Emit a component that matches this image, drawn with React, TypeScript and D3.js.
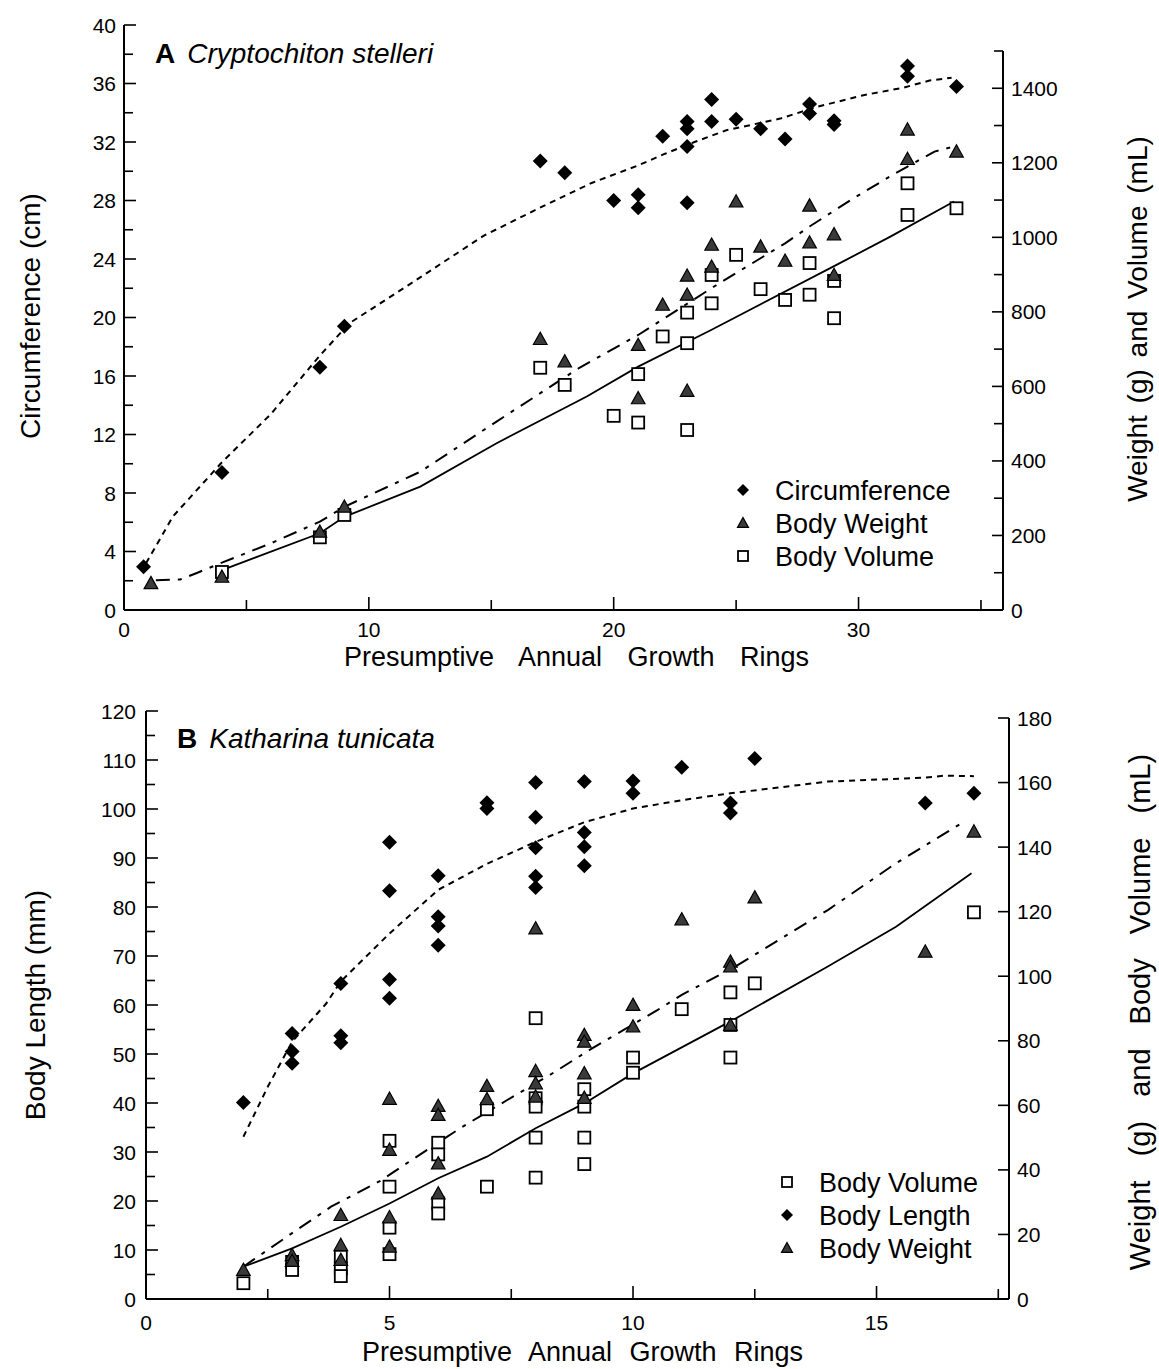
import React from 'react';
import * as d3 from 'd3';

// ---- panel A: Cryptochiton stelleri ----
const circRingsA = [0.8, 4, 8, 9, 17, 18, 20, 21, 21, 22, 23, 23, 23, 23, 24, 24, 25, 26, 27, 28, 28, 29, 29, 32, 32, 34];
const circA = [2.95, 9.4, 16.6, 19.4, 30.7, 29.9, 28.0, 28.4, 27.5, 32.4, 33.4, 32.9, 31.7, 27.85, 34.9, 33.4, 33.55, 32.9, 32.2, 34.6, 33.95, 33.45, 33.2, 37.2, 36.5, 35.8];

const weightRingsA = [1.1, 4, 8, 9, 17, 18, 21, 21, 22, 23, 23, 23, 24, 24, 25, 26, 27, 28, 28, 29, 29, 32, 32, 34];
const weightA = [72, 89, 210, 277, 727, 667, 711, 568, 819, 897, 846, 588, 980, 921, 1096, 975, 937, 1085, 986, 1008, 899, 1289, 1210, 1230];

const volRingsA = [4, 8, 9, 17, 18, 20, 21, 21, 22, 23, 23, 23, 24, 24, 25, 26, 27, 28, 28, 29, 29, 32, 32, 34];
const volA = [102, 195, 255, 650, 604, 521, 633, 503, 734, 798, 716, 483, 899, 823, 953, 861, 832, 931, 846, 883, 783, 1145, 1060, 1078];

// fitted curves
const circFitA = [[0.9, 3.2], [2, 6.4], [4, 10.1], [6, 13.4], [8, 17.4], [9.2, 19.6], [11.6, 22.2], [14.7, 25.6], [17.1, 27.6], [19.1, 29.2], [21, 30.4], [22.1, 31.2], [23.3, 32.0], [24.6, 32.8], [26.8, 33.6], [28.3, 34.4], [30.2, 35.2], [31.8, 35.7], [32.9, 36.2], [33.8, 36.4]];
const weightFitA = [[1.3, 80], [2.3, 82], [3, 100], [4, 127], [6, 179], [8, 237], [9, 277], [12.1, 371], [15.2, 505], [18.6, 650], [21, 738], [24.1, 868], [27, 984], [28, 1029], [29.7, 1101], [31.4, 1168], [33.1, 1230], [33.9, 1244]];
const volFitA = [[4, 107], [8, 206], [9, 250], [12.1, 331], [15.2, 447], [18.9, 573], [21, 653], [24, 752], [29.1, 926], [31.3, 1002], [33.9, 1096]];

// ---- panel B: Katharina tunicata ----
const lenRingsB = [2, 3, 3, 3, 4, 4, 4, 5, 5, 5, 5, 6, 6, 6, 6, 7, 7, 8, 8, 8, 8, 8, 9, 9, 9, 9, 10, 10, 11, 12, 12, 12.5, 16, 17];
const lenB = [40.1, 54.2, 50.5, 48.1, 64.4, 53.7, 52.3, 93.2, 83.3, 65.2, 61.4, 86.4, 78.0, 76.1, 72.2, 101.3, 100.1, 105.4, 98.3, 92.1, 86.3, 84.0, 105.6, 95.2, 92.3, 88.4, 105.7, 103.2, 108.5, 101.2, 99.2, 110.3, 101.2, 103.2];

const weightRingsB = [2, 3, 3, 4, 4, 4, 5, 5, 5, 5, 6, 6, 6, 6, 7, 7, 8, 8, 8, 8, 9, 9, 9, 9, 10, 10, 11, 12, 12, 12, 12.5, 16, 17];
const weightB = [9.0, 13.6, 11.8, 26.0, 16.7, 12.1, 62.0, 46.2, 25.3, 16.2, 59.8, 57.0, 42.0, 32.7, 66.0, 61.9, 114.8, 70.6, 66.8, 62.7, 81.8, 79.7, 69.9, 62.3, 91.1, 84.4, 117.6, 104.5, 103.0, 84.9, 124.4, 107.6, 144.8];

const volRingsB = [2, 3, 3, 4, 4, 4, 5, 5, 5, 5, 6, 6, 6, 6, 7, 7, 8, 8, 8, 8, 8, 9, 9, 9, 9, 10, 10, 11, 12, 12, 12, 12.5, 17];
const volB = [4.9, 11.5, 9.0, 13.1, 9.5, 7.1, 49.0, 34.8, 22.1, 13.9, 48.4, 44.8, 29.6, 26.5, 58.8, 34.8, 87.0, 62.2, 59.6, 50.0, 37.6, 65.0, 59.6, 50.0, 41.8, 74.8, 70.1, 89.8, 95.0, 84.9, 74.8, 97.8, 119.8];

const lenFitB = [[2, 33.1], [2.5, 43.3], [3, 52.5], [3.7, 60.3], [4, 64.8], [5, 74.6], [6, 83.5], [7, 88.8], [8, 93.3], [9, 97.3], [10, 100.1], [11, 101.8], [12, 103.2], [13, 104.4], [14, 105.6], [16, 106.4], [16.4, 106.8], [17, 106.7]];
const weightFitB = [[2, 10], [2.2, 12.1], [3, 20.4], [3.8, 28.6], [4.8, 36.5], [5.5, 43.5], [6.45, 52.9], [7.4, 61.5], [8.4, 70.4], [9.1, 77.1], [9.8, 83.3], [10.5, 89.5], [11, 94.2], [12.1, 103], [14, 120.5], [15.4, 135], [16.8, 147.9]];
const volFitB = [[2, 10], [3, 15.7], [4, 22.4], [5, 29.6], [6, 37.4], [7, 44.1], [8, 52.9], [9, 60.6], [10, 69.9], [12, 86], [14, 103], [15.4, 115.3], [16.95, 131.9]];

const FONT = '"Liberation Sans", Arial, Helvetica, sans-serif';

const diamondPath = (r) => `M0,${-r}L${r},0L0,${r}L${-r},0Z`;
const trianglePath = (s) => `M0,${-s}L${s},${s * 0.8}L${-s},${s * 0.8}Z`;

const Diamond = ({ x, y, r = 7.5 }) => (
  <path d={diamondPath(r)} transform={`translate(${x},${y})`} fill="#000" />
);
const Triangle = ({ x, y, s = 6.8 }) => (
  <path d={trianglePath(s)} transform={`translate(${x},${y})`} fill="#3a3a3a" stroke="#000" strokeWidth={1.2} />
);
const Square = ({ x, y, s = 12 }) => (
  <rect x={x - s / 2} y={y - s / 2} width={s} height={s} fill="#fff" stroke="#000" strokeWidth={1.8} />
);

const Panel = ({ x, yL, yR, cfg }) => {
  const [x0, x1] = x.range();
  const [yb, yt] = yL.range();
  const yrt = yR.range()[1];
  const line = (ys) => d3.line().x(d => x(d[0])).y(d => ys(d[1]));
  return (
    <g fontFamily={FONT} fill="#000">
      {/* axes */}
      <line x1={x0} x2={x0} y1={yt} y2={yb} stroke="#000" strokeWidth={2} />
      <line x1={x0} x2={x1} y1={yb} y2={yb} stroke="#000" strokeWidth={2} />
      <line x1={x1} x2={x1} y1={yrt} y2={yb} stroke="#000" strokeWidth={2} />
      {cfg.leftMinor.map(t => (
        <line key={'lm' + t} x1={x0} x2={x0 + 9} y1={yL(t)} y2={yL(t)} stroke="#000" strokeWidth={1.6} />
      ))}
      {cfg.leftMajor.map(t => (
        <g key={'l' + t}>
          <line x1={x0} x2={x0 + 12} y1={yL(t)} y2={yL(t)} stroke="#000" strokeWidth={1.6} />
          <text x={x0 - cfg.leftGap} y={yL(t)} dy="0.36em" textAnchor="end" fontSize={21}>{t}</text>
        </g>
      ))}
      {cfg.rightMinor.map(t => (
        <line key={'rm' + t} x1={x1} x2={x1 - 9} y1={yR(t)} y2={yR(t)} stroke="#000" strokeWidth={1.6} />
      ))}
      {cfg.rightMajor.map(t => (
        <g key={'r' + t}>
          <line x1={x1} x2={x1 - 11} y1={yR(t)} y2={yR(t)} stroke="#000" strokeWidth={1.6} />
          <text x={x1 + cfg.rightGap} y={yR(t)} dy="0.36em" textAnchor="start" fontSize={21}>{t}</text>
        </g>
      ))}
      {cfg.xMinor.map(t => (
        <line key={'xm' + t} x1={x(t)} x2={x(t)} y1={yb} y2={yb - 10} stroke="#000" strokeWidth={1.6} />
      ))}
      {cfg.xMajor.map(t => (
        <g key={'x' + t}>
          <line x1={x(t)} x2={x(t)} y1={yb} y2={yb - 13} stroke="#000" strokeWidth={1.6} />
          <text x={x(t)} y={yb + cfg.xLabelDy} textAnchor="middle" fontSize={21}>{t}</text>
        </g>
      ))}

      {/* axis titles */}
      <text x={(x0 + x1) / 2 + cfg.xTitleShift} y={yb + cfg.xTitleDy} textAnchor="middle" fontSize={27} wordSpacing={cfg.xTitleWs}>
        Presumptive Annual Growth Rings
      </text>
      <text transform={`translate(${cfg.leftTitlePos[0]},${cfg.leftTitlePos[1]}) rotate(-90)`} textAnchor="middle" dy="0.35em" fontSize={28}>
        {cfg.leftTitle}
      </text>
      <text transform={`translate(${cfg.rightTitlePos[0]},${cfg.rightTitlePos[1]}) rotate(-90)`} textAnchor="middle" dy="0.35em" fontSize={cfg.rightTitleSize} wordSpacing={cfg.rightTitleWs}>
        {cfg.rightTitle}
      </text>

      {/* panel label */}
      <text x={cfg.labelPos[0]} y={cfg.labelPos[1]} fontSize={28}>
        <tspan fontWeight="bold">{cfg.letter}</tspan>
        <tspan dx={12} fontStyle="italic">{cfg.species}</tspan>
      </text>

      {/* fitted curves */}
      <path d={line(yL)(cfg.dotFit)} fill="none" stroke="#000" strokeWidth={2} strokeDasharray="6,5" />
      <path d={line(yR)(cfg.dashDotFit)} fill="none" stroke="#000" strokeWidth={2} strokeDasharray="14,8,4,8" />
      <path d={line(yR)(cfg.solidFit)} fill="none" stroke="#000" strokeWidth={1.8} />

      {/* points */}
      {cfg.squares[0].map((r, i) => <Square key={'s' + i} x={x(r)} y={yR(cfg.squares[1][i])} />)}
      {cfg.triangles[0].map((r, i) => <Triangle key={'t' + i} x={x(r)} y={yR(cfg.triangles[1][i])} />)}
      {cfg.diamonds[0].map((r, i) => <Diamond key={'d' + i} x={x(r)} y={yL(cfg.diamonds[1][i])} />)}

      {/* legend */}
      {cfg.legend.map((it, i) => {
        const lx = cfg.legendPos[0];
        const ly = cfg.legendPos[1] + i * 33;
        return (
          <g key={'lg' + i}>
            {it.kind === 'diamond' && <Diamond x={lx} y={ly} r={6} />}
            {it.kind === 'triangle' && <Triangle x={lx} y={ly} s={5.5} />}
            {it.kind === 'square' && <Square x={lx} y={ly} s={10} />}
            <text x={lx + 32} y={ly} dy="0.36em" fontSize={27}>{it.label}</text>
          </g>
        );
      })}
    </g>
  );
};

export default function App() {
  const xA = d3.scaleLinear().domain([0, 35.9]).range([124, 1003]);
  const yA = d3.scaleLinear().domain([0, 40]).range([610, 25]);
  const y2A = d3.scaleLinear().domain([0, 1500]).range([610, 51]);

  const xB = d3.scaleLinear().domain([0, 17.72]).range([146, 1009]);
  const yB = d3.scaleLinear().domain([0, 120]).range([1299, 711]);
  const y2B = d3.scaleLinear().domain([0, 180]).range([1299, 718]);

  const cfgA = {
    leftMajor: d3.range(0, 41, 4),
    leftMinor: d3.range(2, 40, 4),
    rightMajor: d3.range(0, 1401, 200),
    rightMinor: d3.range(100, 1501, 200),
    xMajor: [0, 10, 20, 30],
    xMinor: [5, 15, 25, 35],
    leftGap: 8,
    rightGap: 8,
    xLabelDy: 27,
    xTitleDy: 56,
    xTitleShift: 13,
    xTitleWs: 18,
    leftTitle: 'Circumference (cm)',
    leftTitlePos: [30, 316],
    rightTitle: 'Weight (g)  and Volume (mL)',
    rightTitlePos: [1137, 319],
    rightTitleWs: 4,
    rightTitleSize: 28,
    labelPos: [155, 63],
    letter: 'A',
    species: 'Cryptochiton stelleri',
    dotFit: circFitA,
    dashDotFit: weightFitA,
    solidFit: volFitA,
    diamonds: [circRingsA, circA],
    triangles: [weightRingsA, weightA],
    squares: [volRingsA, volA],
    legendPos: [743, 490],
    legend: [
      { kind: 'diamond', label: 'Circumference' },
      { kind: 'triangle', label: 'Body Weight' },
      { kind: 'square', label: 'Body Volume' },
    ],
  };

  const cfgB = {
    leftMajor: d3.range(0, 121, 10),
    leftMinor: d3.range(5, 120, 10),
    rightMajor: d3.range(0, 181, 20),
    rightMinor: [],
    xMajor: [0, 5, 10, 15],
    xMinor: [2.5, 7.5, 12.5, 17.5],
    leftGap: 10,
    rightGap: 8,
    xLabelDy: 31,
    xTitleDy: 62,
    xTitleShift: 5,
    xTitleWs: 10,
    leftTitle: 'Body Length (mm)',
    leftTitlePos: [35, 1005],
    rightTitle: 'Weight (g)  and Body Volume (mL)',
    rightTitlePos: [1140, 1012],
    rightTitleWs: 16,
    rightTitleSize: 29,
    labelPos: [177, 748],
    letter: 'B',
    species: 'Katharina tunicata',
    dotFit: lenFitB,
    dashDotFit: weightFitB,
    solidFit: volFitB,
    diamonds: [lenRingsB, lenB],
    triangles: [weightRingsB, weightB],
    squares: [volRingsB, volB],
    legendPos: [787, 1182],
    legend: [
      { kind: 'square', label: 'Body Volume' },
      { kind: 'diamond', label: 'Body Length' },
      { kind: 'triangle', label: 'Body Weight' },
    ],
  };

  return (
    <svg
      width={1159}
      height={1369}
      viewBox="0 0 1159 1369"
      style={{ position: 'absolute', left: 0, top: 0, background: '#fff' }}
    >
      <rect width={1159} height={1369} fill="#fff" />
      <Panel x={xA} yL={yA} yR={y2A} cfg={cfgA} />
      <Panel x={xB} yL={yB} yR={y2B} cfg={cfgB} />
    </svg>
  );
}
